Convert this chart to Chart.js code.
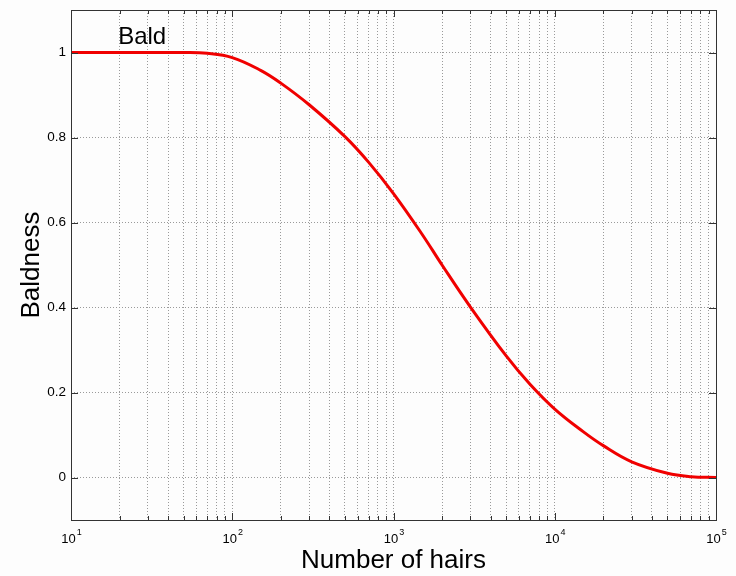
<!DOCTYPE html>
<html>
<head>
<meta charset="utf-8">
<script src="https://cdn.jsdelivr.net/npm/chart.js@4/dist/chart.umd.min.js"></script>
<style>
  html, body { margin: 0; padding: 0; background: #fdfdfd; }
  canvas { display: block; }
</style>
</head>
<body>
<canvas id="c" width="736" height="576"></canvas>
<script>
// ---- data ----
const hairs    = [10, 15, 20, 30, 50, 70, 100, 150, 200, 300, 500, 700, 1000, 1500, 2000, 3000, 5000, 7000, 10000, 15000, 20000, 30000, 50000, 70000, 100000];
const baldness = [1, 1, 1, 1, 1, 0.998, 0.988, 0.958, 0.928, 0.877, 0.802, 0.742, 0.668, 0.573, 0.500, 0.401, 0.286, 0.220, 0.161, 0.108, 0.075, 0.037, 0.010, 0.002, 0];
const xDecadeExponents = [1, 2, 3, 4, 5];
const xMultipliers = [1, 2, 3, 4, 5, 6, 7, 8, 9];
const yTicks = [0, 0.2, 0.4, 0.6, 0.8, 1];
const xTitle = 'Number of hairs';
const yTitle = 'Baldness';
const noteText = 'Bald';
const noteX = 19.6;
const noteY = 1.02;

const xTickValues = [];
xDecadeExponents.forEach((e, i) => {
  if (i === xDecadeExponents.length - 1) { xTickValues.push(Math.pow(10, e)); return; }
  xMultipliers.forEach(m => xTickValues.push(m * Math.pow(10, e)));
});

const FONT = '"Liberation Sans", Arial, Helvetica, sans-serif';

const matlabAxes = {
  id: 'matlabAxes',
  beforeDraw(chart) {
    const ctx = chart.ctx;
    ctx.save();
    ctx.fillStyle = '#fdfdfd';
    ctx.fillRect(0, 0, chart.width, chart.height);
    ctx.restore();
  },
  afterDatasetsDraw(chart) {
    const ctx = chart.ctx;
    const a = chart.chartArea;
    const xs = chart.scales.x, ys = chart.scales.y;
    ctx.save();
    ctx.strokeStyle = '#333';
    ctx.lineWidth = 1;
    ctx.beginPath();
    // inward ticks
    xTickValues.forEach(v => {
      const px = Math.round(xs.getPixelForValue(v)) + 0.5;
      const major = Math.abs(Math.log10(v) - Math.round(Math.log10(v))) < 1e-9;
      const len = major ? 7 : 4;
      ctx.moveTo(px, a.bottom); ctx.lineTo(px, a.bottom - len);
      ctx.moveTo(px, a.top); ctx.lineTo(px, a.top + len);
    });
    yTicks.forEach(v => {
      const py = Math.round(ys.getPixelForValue(v)) + 0.5;
      ctx.moveTo(a.left, py); ctx.lineTo(a.left + 7, py);
      ctx.moveTo(a.right, py); ctx.lineTo(a.right - 7, py);
    });
    ctx.stroke();
    // frame
    ctx.strokeRect(Math.round(a.left) + 0.5, Math.round(a.top) + 0.5,
                   Math.round(a.right - a.left), Math.round(a.bottom - a.top));
    // x tick labels 10^n
    ctx.fillStyle = '#000';
    ctx.textBaseline = 'alphabetic';
    xDecadeExponents.forEach(e => {
      const px = xs.getPixelForValue(Math.pow(10, e));
      ctx.font = '13px ' + FONT;
      const wBase = ctx.measureText('10').width;
      ctx.font = '9px ' + FONT;
      const wExp = ctx.measureText(String(e)).width;
      const x0 = px - (wBase + wExp) / 2;
      ctx.font = '13px ' + FONT;
      ctx.textAlign = 'left';
      ctx.fillText('10', x0, a.bottom + 23);
      ctx.font = '9px ' + FONT;
      ctx.fillText(String(e), x0 + wBase + 1, a.bottom + 15);
    });
    // annotation
    ctx.font = '24px ' + FONT;
    ctx.textAlign = 'left';
    ctx.fillText(noteText, xs.getPixelForValue(noteX), ys.getPixelForValue(noteY));
    ctx.restore();
  }
};

new Chart(document.getElementById('c'), {
  type: 'line',
  data: {
    datasets: [{
      data: hairs.map((h, i) => ({ x: h, y: baldness[i] })),
      borderColor: '#f00000',
      borderWidth: 3,
      pointRadius: 0,
      fill: false,
      tension: 0.4
    }]
  },
  options: {
    responsive: false,
    animation: false,
    devicePixelRatio: 1,
    layout: { padding: { top: 10, right: 20, left: 0, bottom: 0 } },
    plugins: { legend: { display: false }, tooltip: { enabled: false } },
    scales: {
      x: {
        type: 'logarithmic',
        min: 10, max: 100000,
        afterBuildTicks: s => { s.ticks = xTickValues.map(v => ({ value: v })); },
        afterFit: s => { s.height = 56; s.paddingLeft = 0; s.paddingRight = 0; },
        ticks: { display: false, autoSkip: false },
        grid: { color: '#9a9a9a', lineWidth: 1, drawTicks: false },
        border: { display: false, dash: [1, 2] },
        title: { display: true, text: xTitle, color: '#000', font: { family: FONT, size: 26 }, padding: { top: 0, bottom: 0 } }
      },
      y: {
        type: 'linear',
        min: -0.1, max: 1.1,
        afterBuildTicks: s => { s.ticks = yTicks.map(v => ({ value: v })); },
        afterFit: s => { s.width = 71; s.paddingTop = 0; s.paddingBottom = 0; },
        ticks: { color: '#000', font: { family: FONT, size: 13.5 }, padding: 5, callback: v => String(v) },
        grid: { color: '#9a9a9a', lineWidth: 1, drawTicks: false },
        border: { display: false, dash: [1, 2] },
        title: { display: true, text: yTitle, color: '#000', font: { family: FONT, size: 26 }, padding: { top: 16, bottom: 0 } }
      }
    }
  },
  plugins: [matlabAxes]
});
</script>
</body>
</html>
